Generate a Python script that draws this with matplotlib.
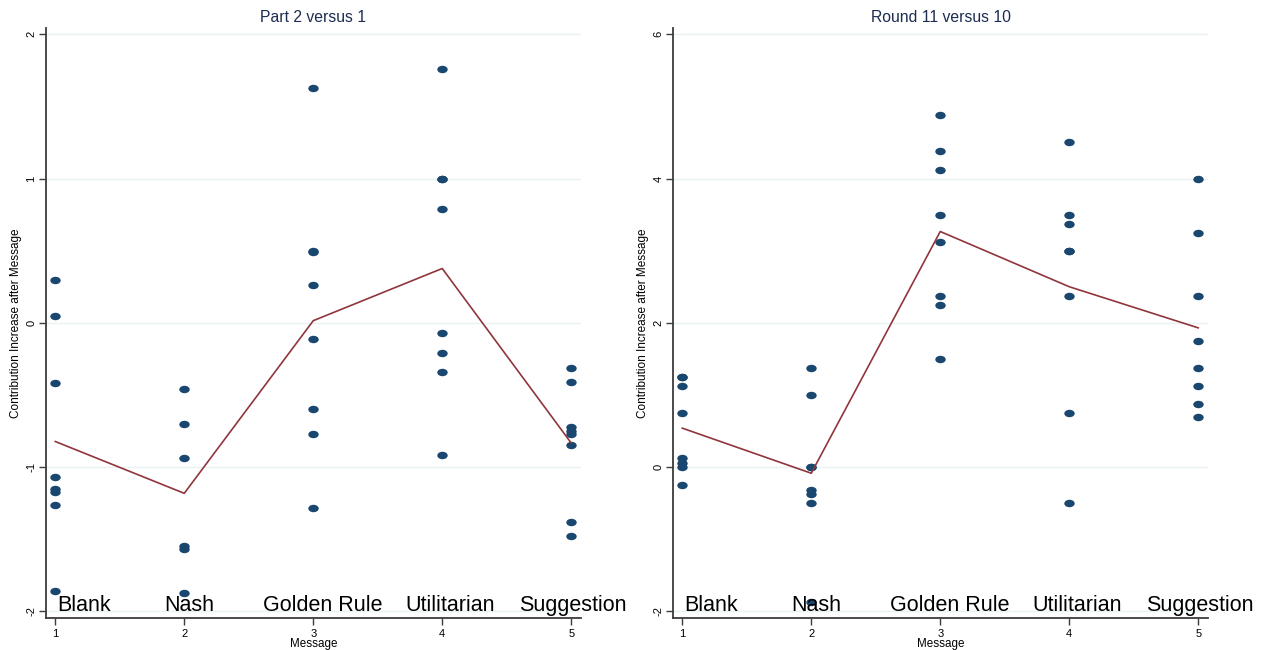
import numpy as np
import matplotlib
matplotlib.use("Agg")
import matplotlib.pyplot as plt
from matplotlib.path import Path
from matplotlib.transforms import Affine2D

plt.rcParams['font.family'] = ['Liberation Sans', 'DejaVu Sans']

# message treatments on the x axis
messages = [1, 2, 3, 4, 5]
message_names = ["Blank", "Nash", "Golden Rule", "Utilitarian", "Suggestion"]

# contribution increase, part 2 versus part 1 (one list per message)
part_blank = [0.30, 0.05, -0.42, -1.07, -1.15, -1.17, -1.26, -1.86]
part_nash = [-0.46, -0.70, -0.94, -1.55, -1.57, -1.87]
part_golden = [1.63, 0.50, 0.49, 0.26, -0.11, -0.60, -0.77, -1.28]
part_util = [1.76, 1.00, 1.00, 0.79, -0.07, -0.21, -0.34, -0.915]
part_sugg = [-0.31, -0.41, -0.72, -0.75, -0.77, -0.845, -1.38, -1.48]

# contribution increase, round 11 versus round 10
round_blank = [1.25, 1.25, 1.125, 0.75, 0.125, 0.0625, 0.0, -0.25]
round_nash = [1.375, 1.0, 0.0, 0.0, -0.3125, -0.375, -0.5, -1.875]
round_golden = [4.875, 4.375, 4.125, 3.5, 3.125, 2.375, 2.25, 1.5]
round_util = [4.5, 3.5, 3.375, 3.0, 3.0, 2.375, 0.75, -0.5]
round_sugg = [4.0, 3.25, 2.375, 1.75, 1.375, 1.125, 0.875, 0.6875]

part_ticks = [-2, -1, 0, 1, 2]
round_ticks = [-2, 0, 2, 4, 6]

# label placement (shift to the right of each message, in x units)
name_shift = [0.22, 0.04, 0.07, 0.06, 0.01]

dot_color = "#1a476f"
line_color = "#90353b"
grid_color = "#eaf2f3"
axis_color = "#3c3c3c"

# slightly flattened dot
circle = Path.unit_circle()
dot = circle.transformed(Affine2D().scale(1.4, 1.0))


def draw_panel(ax, groups, yticks, ylim, title):
	# horizontal grid at the major ticks
	for t in yticks:
		ax.axhline(t, color=grid_color, lw=1.0, zorder=0)

	for x, vals in zip(messages, groups):
		ax.plot([x] * len(vals), vals, linestyle="none", marker=dot,
			markersize=7.5, color=dot_color, markeredgewidth=0, zorder=2)

	# mean for each message
	means = [np.mean(v) for v in groups]
	ax.plot(messages, means, color=line_color, lw=1.2, zorder=2)

	for x, name, dx in zip(messages, message_names, name_shift):
		ax.text(x + dx, -2, name, ha="center", va="baseline", fontsize=15.5,
			color="black", zorder=3)

	ax.set_xlim(0.928, 5.076)
	ax.set_ylim(*ylim)
	ax.set_xticks(messages)
	ax.set_yticks(yticks)
	ax.set_yticklabels([str(t) for t in yticks], rotation=90, va="center")
	ax.tick_params(axis="both", length=5, width=1, color=axis_color,
		labelsize=8, pad=3)
	ax.tick_params(axis="y", pad=2)

	for side in ["top", "right"]:
		ax.spines[side].set_visible(False)
	for side in ["left", "bottom"]:
		ax.spines[side].set_color(axis_color)
		ax.spines[side].set_linewidth(1.3)

	ax.set_xlabel("Message", fontsize=8.4, labelpad=-1)
	ax.set_ylabel("Contribution Increase after Message", fontsize=8.5, labelpad=3)
	ax.set_title(title, fontsize=11.3, color="#1c2c50", pad=4)


fig = plt.figure(figsize=(12.62, 6.5), dpi=100)
ax1 = fig.add_axes([46 / 1262, 32 / 650, 535 / 1262, 590 / 650])
ax2 = fig.add_axes([673 / 1262, 32 / 650, 535 / 1262, 590 / 650])

draw_panel(ax1, [part_blank, part_nash, part_golden, part_util, part_sugg],
	part_ticks, (-2.046, 2.044), "Part 2 versus 1")
draw_panel(ax2, [round_blank, round_nash, round_golden, round_util, round_sugg],
	round_ticks, (-2.093, 6.087), "Round 11 versus 10")

fig.savefig("out.png", dpi=100, facecolor="white")
plt.close(fig)
